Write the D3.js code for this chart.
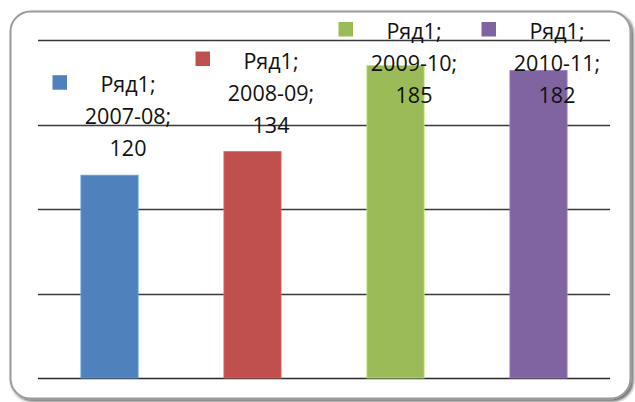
<!DOCTYPE html>
<html><head><meta charset="utf-8">
<script src="https://cdn.jsdelivr.net/npm/d3@7"></script>
<style>html,body{margin:0;padding:0;background:#fff;}svg{display:block;}</style>
</head><body>
<script>
const seriesName = "Ряд1";
const categories = ["2007-08", "2008-09", "2009-10", "2010-11"];
const values = [120, 134, 185, 182];
const colors = ["#4f81bd", "#c0504d", "#9bbb59", "#8064a2"];
const yTicks = [0, 50, 100, 150, 200];

const W = 635, H = 402;
const svg = d3.select("body").append("svg").attr("width", W).attr("height", H);

// frame with soft shadow
const defs = svg.append("defs");
const f = defs.append("filter").attr("id", "sh").attr("x", "-5%").attr("y", "-5%").attr("width", "110%").attr("height", "110%");
f.append("feGaussianBlur").attr("in", "SourceAlpha").attr("stdDeviation", 1.5).attr("result", "b");
f.append("feOffset").attr("in", "b").attr("dx", 1.5).attr("dy", 1.5).attr("result", "o");
f.append("feComponentTransfer").attr("in", "o").attr("result", "o2")
  .append("feFuncA").attr("type", "linear").attr("slope", 0.6);
const m = f.append("feMerge");
m.append("feMergeNode").attr("in", "o2");
m.append("feMergeNode").attr("in", "SourceGraphic");

svg.append("rect").attr("x", 10.5).attr("y", 11.5).attr("width", 620).attr("height", 387)
  .attr("rx", 20).attr("ry", 20).attr("fill", "#fff")
  .attr("stroke", "#9a9a9a").attr("stroke-width", 2).attr("filter", "url(#sh)");

const x0 = 38, x1 = 610;
const x = d3.scaleBand().domain(categories).range([x0, x1]).paddingInner(0.6).paddingOuter(0.3);
const y = d3.scaleLinear().domain([0, 200]).range([378, 40]);

// gridlines
svg.append("g").selectAll("line").data(yTicks).join("line")
  .attr("x1", x0).attr("x2", x1)
  .attr("y1", d => Math.round(y(d)) + 0.5).attr("y2", d => Math.round(y(d)) + 0.5)
  .attr("stroke", d => d === 0 ? "#2a2a2a" : "#3a3a3a").attr("stroke-width", d => d === 0 ? 1.6 : 1.3);

// bars
svg.append("g").selectAll("rect").data(values).join("rect")
  .attr("x", (d, i) => x(categories[i]))
  .attr("width", x.bandwidth())
  .attr("y", d => y(d))
  .attr("height", d => y(0) - y(d))
  .attr("fill", (d, i) => colors[i])
  .attr("stroke", (d, i) => d3.color(colors[i]).brighter(0.6))
  .attr("stroke-width", 0.8);

// data labels
const lineH = 32, fs = 21.5;
const lbl = svg.append("g").attr("font-family", "'Open Sans', 'Liberation Sans', sans-serif")
  .attr("font-size", fs).attr("fill", "#111");
values.forEach((v, i) => {
  const cx = x(categories[i]) + x.bandwidth() / 2 + 18.5;
  let lastBase = y(v) - 19;
  let firstBase = lastBase - 2 * lineH;
  if (firstBase < 39) { firstBase = 39; }
  const lines = [seriesName + ";", categories[i] + ";", String(v)];
  const g = lbl.append("g");
  lines.forEach((t, k) => {
    g.append("text").attr("x", cx).attr("y", firstBase + k * lineH)
      .attr("text-anchor", "middle").text(t);
  });
  g.append("rect").attr("x", cx - 75.5).attr("y", firstBase - 17)
    .attr("width", 14.5).attr("height", 14.5).attr("fill", colors[i]);
});
</script>
</body></html>
